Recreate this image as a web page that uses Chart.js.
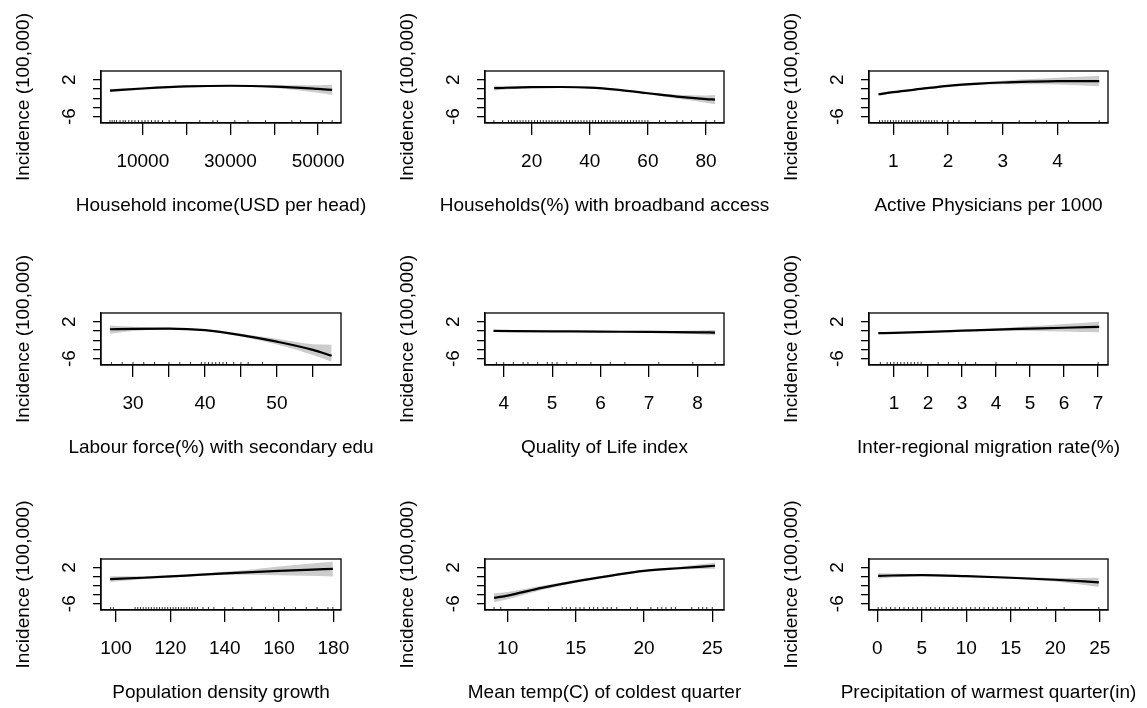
<!DOCTYPE html>
<html>
<head>
<meta charset="utf-8">
<script src="https://cdn.jsdelivr.net/npm/chart.js@4/dist/chart.umd.min.js"></script>
<style>
  body { margin: 0; background: #fff; }
  #wrap { position: relative; width: 1147px; height: 708px; overflow: hidden; background: #fff; }
  #wrap canvas { position: absolute; }
</style>
</head>
<body>
<div id="wrap"></div>
<script>
// ---- data ----
const yTitle = "Incidence (100,000)";
const yTicks = [2, 0, -2, -4, -6];
const yTickLabels = [2, -6];

// 1 household income
const incomeX   = [2500, 10000, 20000, 30000, 40000, 50000, 53200];
const incomeFit = [-0.35, 0.1, 0.55, 0.7, 0.5, 0.0, -0.2];
const incomeLo  = [-0.7, -0.1, 0.4, 0.55, 0.2, -0.8, -1.3];
const incomeHi  = [0.0, 0.3, 0.7, 0.85, 0.8, 0.8, 0.9];
const incomeTicks  = [10000, 20000, 30000, 40000, 50000];
const incomeLabels = [10000, 30000, 50000];
const incomeRug = [2500, 3000, 3500, 4000, 4800, 5500, 6000, 6800, 7500, 8200, 9000, 9800, 10500,
  11200, 12000, 12800, 13500, 14500, 16000, 17500, 23000, 26000, 27000, 31000, 34000, 38000, 44000, 46000, 51000, 53200];

// 2 broadband
const broadX   = [7.1, 20, 30, 40, 50, 60, 70, 80, 83.1];
const broadFit = [0.17, 0.4, 0.42, 0.3, -0.2, -0.93, -1.67, -2.2, -2.3];
const broadLo  = [-0.35, 0.2, 0.25, 0.15, -0.35, -1.15, -2.1, -3.0, -3.3];
const broadHi  = [0.7, 0.6, 0.6, 0.45, -0.05, -0.7, -1.25, -1.4, -1.3];
const broadTicks  = [20, 40, 60, 80];
const broadLabels = [20, 40, 60, 80];
const broadRug = [7, 10, 12, 13, 14, 15, 16, 17, 18, 19, 20, 21, 22, 23, 24, 25, 26, 27, 28, 29, 30, 31, 32, 33,
  34, 35, 36, 37, 38, 39, 40, 41, 42, 43, 44, 45, 46, 47, 48, 49, 50, 51, 52, 53, 54, 55, 56, 57, 58, 59, 60,
  64, 66, 70, 72, 75, 80, 83];

// 3 physicians
const physX   = [0.73, 1, 1.5, 2, 2.5, 3, 3.5, 4, 4.76];
const physFit = [-1.15, -0.7, 0.0, 0.68, 1.1, 1.4, 1.58, 1.7, 1.72];
const physLo  = [-1.45, -0.95, -0.2, 0.45, 0.8, 1.0, 1.0, 0.95, 0.6];
const physHi  = [-0.85, -0.45, 0.2, 0.9, 1.4, 1.8, 2.15, 2.45, 2.8];
const physTicks  = [1, 2, 3, 4];
const physLabels = [1, 2, 3, 4];
const physRug = [0.75, 0.8, 0.85, 0.9, 0.95, 1.0, 1.05, 1.1, 1.15, 1.2, 1.25, 1.3, 1.35, 1.4, 1.45, 1.5, 1.55,
  1.6, 1.65, 1.7, 1.75, 1.8, 1.9, 2.0, 2.1, 2.2, 2.5, 2.8, 3.3, 3.6, 3.8, 4.2, 4.76];

// 4 labour force secondary edu
const labourX   = [26.8, 30, 35, 40, 45, 50, 55, 57.6];
const labourFit = [0.37, 0.44, 0.5, 0.16, -0.9, -2.33, -4.1, -5.4];
const labourLo  = [-0.6, 0.0, 0.3, 0.0, -1.2, -2.95, -5.2, -6.7];
const labourHi  = [1.2, 0.9, 0.7, 0.32, -0.6, -1.7, -2.9, -3.0];
const labourTicks  = [30, 35, 40, 45, 50, 55];
const labourLabels = [30, 40, 50];
const labourRug = [27, 28.5, 30, 31.5, 33, 35, 36.5, 38, 39.5, 40, 40.5, 41, 41.5, 42, 42.5, 43, 44, 45, 46, 48];

// 5 quality of life
const qolX   = [3.79, 5, 6, 7, 8, 8.36];
const qolFit = [0.0, -0.08, -0.15, -0.2, -0.3, -0.35];
const qolLo  = [-0.1, -0.15, -0.25, -0.35, -0.7, -0.9];
const qolHi  = [0.1, 0.0, -0.05, -0.05, 0.1, 0.2];
const qolTicks  = [4, 5, 6, 7, 8];
const qolLabels = [4, 5, 6, 7, 8];
const qolRug = [3.85, 4, 4.2, 4.4, 4.5, 4.7, 4.9, 5.0, 5.1, 5.3, 5.5, 5.8, 6.2, 6.5, 7.2, 7.9, 8.36];

// 6 migration
const migX   = [0.54, 1, 2, 3, 4, 5, 6, 7.03];
const migFit = [-0.48, -0.4, -0.2, 0.05, 0.3, 0.5, 0.7, 0.87];
const migLo  = [-0.65, -0.55, -0.32, -0.1, 0.05, 0.0, -0.1, -0.3];
const migHi  = [-0.3, -0.25, -0.08, 0.2, 0.55, 1.0, 1.5, 2.0];
const migTicks  = [1, 2, 3, 4, 5, 6, 7];
const migLabels = [1, 2, 3, 4, 5, 6, 7];
const migRug = [0.6, 0.8, 0.9, 1.0, 1.1, 1.2, 1.3, 1.4, 1.5, 1.6, 1.7, 1.8, 2.3, 2.6, 2.9, 3.1, 3.4, 4.0, 4.6, 7.0];

// 7 population density growth
const popX   = [97.8, 110, 120, 130, 140, 150, 160, 170, 179.8];
const popFit = [-0.55, -0.25, 0.04, 0.38, 0.7, 1.0, 1.27, 1.5, 1.7];
const popLo  = [-1.2, -0.6, -0.2, 0.15, 0.35, 0.4, 0.3, 0.2, 0.04];
const popHi  = [0.1, 0.1, 0.28, 0.6, 1.05, 1.6, 2.25, 2.8, 3.3];
const popTicks  = [100, 120, 140, 160, 180];
const popLabels = [100, 120, 140, 160, 180];
const popRug = [98, 99, 107, 108, 109, 110, 111, 112, 113, 114, 115, 116, 117, 118, 119, 120, 121, 122, 123, 124,
  125, 126, 127, 128, 129, 130, 132, 134, 136, 140, 143, 147, 150, 155, 158, 162, 166, 170, 174, 178, 179.8];

// 8 mean temp of coldest quarter
const tempX   = [9.0, 10, 12.5, 15, 17.5, 20, 22.5, 25.2];
const tempFit = [-4.7, -4.2, -2.5, -1.05, 0.18, 1.27, 1.85, 2.4];
const tempLo  = [-5.7, -5.0, -2.95, -1.35, -0.05, 1.0, 1.55, 1.75];
const tempHi  = [-3.7, -3.4, -2.05, -0.75, 0.4, 1.5, 2.15, 3.05];
const tempTicks  = [10, 15, 20, 25];
const tempLabels = [10, 15, 20, 25];
const tempRug = [9, 9.5, 11.5, 13, 14, 14.3, 14.6, 15, 15.3, 15.6, 16, 16.3, 16.6, 17, 17.3, 17.6, 18, 19, 19.5,
  20.5, 21, 21.3, 21.6, 22, 22.3, 23.5, 24, 24.3, 24.6, 25];

// 9 precipitation of warmest quarter
const precX   = [0.1, 5, 10, 15, 20, 24.9];
const precFit = [0.18, 0.33, 0.1, -0.25, -0.7, -1.27];
const precLo  = [-0.4, 0.15, -0.05, -0.45, -1.1, -2.3];
const precHi  = [0.75, 0.5, 0.25, -0.05, -0.3, -0.25];
const precTicks  = [0, 5, 10, 15, 20, 25];
const precLabels = [0, 5, 10, 15, 20, 25];
const precRug = [0.1, 0.5, 1, 1.5, 2, 2.5, 3, 3.5, 4, 4.5, 5, 5.5, 6, 6.5, 7, 7.5, 8, 8.5, 9, 9.5, 10, 10.5, 11,
  11.5, 12, 12.5, 13, 13.5, 14, 14.5, 15, 15.5, 16, 17, 18, 19, 21, 24.9];

// ---- layout (pixel boxes of each plot region) ----
const colBox = [[101, 341], [485, 724], [869, 1108]];
const rowBox = [[71, 123], [313, 365], [559, 610]];
const Y_MIN = -7.4, Y_MAX = 3.9;
const FONT = '"Liberation Sans", Arial, Helvetica, sans-serif';
const BAND = '#cccccc';

const panels = [
  { title: "Household income(USD per head)", x: incomeX, fit: incomeFit, lo: incomeLo, hi: incomeHi,
    ticks: incomeTicks, labels: incomeLabels, rug: incomeRug, range: [455, 55227] },
  { title: "Households(%) with broadband access", x: broadX, fit: broadFit, lo: broadLo, hi: broadHi,
    ticks: broadTicks, labels: broadLabels, rug: broadRug, range: [3.93, 86.2] },
  { title: "Active Physicians per 1000", x: physX, fit: physFit, lo: physLo, hi: physHi,
    ticks: physTicks, labels: physLabels, rug: physRug, range: [0.557, 4.92] },
  { title: "Labour force(%) with secondary edu", x: labourX, fit: labourFit, lo: labourLo, hi: labourHi,
    ticks: labourTicks, labels: labourLabels, rug: labourRug, range: [25.56, 58.9] },
  { title: "Quality of Life index", x: qolX, fit: qolFit, lo: qolLo, hi: qolHi,
    ticks: qolTicks, labels: qolLabels, rug: qolRug, range: [3.615, 8.544] },
  { title: "Inter-regional migration rate(%)", x: migX, fit: migFit, lo: migLo, hi: migHi,
    ticks: migTicks, labels: migLabels, rug: migRug, range: [0.266, 7.29] },
  { title: "Population density growth", x: popX, fit: popFit, lo: popLo, hi: popHi,
    ticks: popTicks, labels: popLabels, rug: popRug, range: [94.45, 182.8] },
  { title: "Mean temp(C) of coldest quarter", x: tempX, fit: tempFit, lo: tempLo, hi: tempHi,
    ticks: tempTicks, labels: tempLabels, rug: tempRug, range: [8.34, 25.86] },
  { title: "Precipitation of warmest quarter(in)", x: precX, fit: precFit, lo: precLo, hi: precHi,
    ticks: precTicks, labels: precLabels, rug: precRug, range: [-0.93, 25.93] }
];

// canvas margins around each plot box (room for ticks, labels and titles)
const PAD_L = 100, PAD_T = 70, PAD_R = 60, PAD_B = 110;

// box, rug, rotated y labels and axis titles
const decor = {
  id: 'decor',
  afterDraw(chart) {
    const p = chart.options.plugins.decor.panel;
    const { ctx, chartArea: a, scales } = chart;
    ctx.save();
    ctx.strokeStyle = '#000';
    ctx.lineWidth = 1.3;
    ctx.strokeRect(a.left, a.top, a.right - a.left, a.bottom - a.top);

    ctx.lineWidth = 0.8;
    ctx.beginPath();
    p.rug.forEach(v => {
      const x = scales.x.getPixelForValue(v);
      ctx.moveTo(x, a.bottom);
      ctx.lineTo(x, a.bottom - 3);
    });
    ctx.stroke();

    ctx.fillStyle = '#000';
    ctx.font = '19px ' + FONT;
    ctx.textAlign = 'center';
    ctx.textBaseline = 'middle';
    yTickLabels.forEach(v => {
      const y = scales.y.getPixelForValue(v);
      ctx.save();
      ctx.translate(a.left - 31, y);
      ctx.rotate(-Math.PI / 2);
      ctx.fillText(String(v), 0, 0);
      ctx.restore();
    });
    ctx.save();
    ctx.translate(a.left - 77, (a.top + a.bottom) / 2);
    ctx.rotate(-Math.PI / 2);
    ctx.fillText(yTitle, 0, 0);
    ctx.restore();
    ctx.fillText(p.title, (a.left + a.right) / 2, a.bottom + 83);
    ctx.restore();
  }
};

const wrap = document.getElementById('wrap');

panels.forEach((p, i) => {
  const [bl, br] = colBox[i % 3];
  const [bt, bb] = rowBox[Math.floor(i / 3)];
  const w = br - bl + PAD_L + PAD_R;
  const h = bb - bt + PAD_T + PAD_B;
  const cv = document.createElement('canvas');
  cv.width = w; cv.height = h;
  cv.style.left = (bl - PAD_L) + 'px';
  cv.style.top = (bt - PAD_T) + 'px';
  cv.style.width = w + 'px';
  cv.style.height = h + 'px';
  wrap.appendChild(cv);

  const pts = ys => ys.map((y, k) => ({ x: p.x[k], y: y }));

  new Chart(cv.getContext('2d'), {
    type: 'line',
    data: {
      datasets: [
        { data: pts(p.hi), fill: '+1', backgroundColor: BAND, borderColor: 'rgba(0,0,0,0)',
          borderWidth: 0, pointRadius: 0, cubicInterpolationMode: 'monotone', order: 2 },
        { data: pts(p.lo), fill: false, borderColor: 'rgba(0,0,0,0)',
          borderWidth: 0, pointRadius: 0, cubicInterpolationMode: 'monotone', order: 3 },
        { data: pts(p.fit), fill: false, borderColor: '#000', borderWidth: 2.2,
          pointRadius: 0, cubicInterpolationMode: 'monotone', order: 0 }
      ]
    },
    options: {
      responsive: false,
      animation: false,
      events: [],
      layout: { padding: { left: 0, top: PAD_T, right: PAD_R, bottom: 0 } },
      plugins: { legend: { display: false }, tooltip: { enabled: false }, decor: { panel: p } },
      scales: {
        x: {
          type: 'linear',
          min: p.range[0], max: p.range[1],
          afterBuildTicks: s => { s.ticks = p.ticks.map(v => ({ value: v })); },
          afterFit: s => { s.height = PAD_B; },
          ticks: {
            autoSkip: false, maxRotation: 0, minRotation: 0, padding: 15, color: '#000',
            font: { family: FONT, size: 19 },
            callback: v => p.labels.includes(v) ? String(v) : ''
          },
          grid: { drawOnChartArea: false, drawTicks: true, tickLength: 12, color: '#000', lineWidth: 1.3 },
          border: { display: true, color: '#000', width: 1.3 }
        },
        y: {
          type: 'linear',
          min: Y_MIN, max: Y_MAX,
          afterBuildTicks: s => { s.ticks = yTicks.map(v => ({ value: v })); },
          afterFit: s => { s.width = PAD_L; },
          ticks: { display: false },
          grid: { drawOnChartArea: false, drawTicks: true, tickLength: 8, color: '#000', lineWidth: 1.3 },
          border: { display: true, color: '#000', width: 1.3 }
        }
      }
    },
    plugins: [decor]
  });
});
</script>
</body>
</html>
